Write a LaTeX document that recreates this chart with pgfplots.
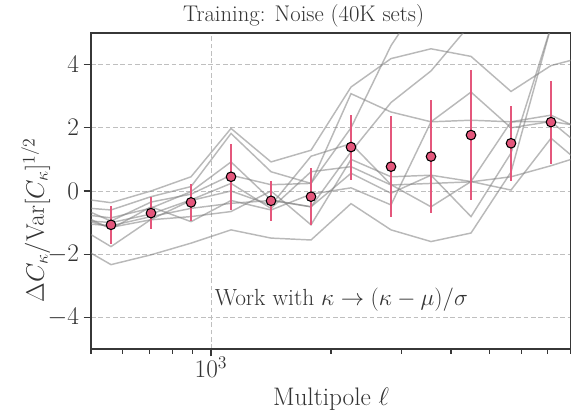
\RequirePackage{fix-cm}
\documentclass[border=0pt]{standalone}
\usepackage{pgfplots}
\usepackage{pgfplotstable}
\pgfplotsset{compat=1.18}

\definecolor{errpink}{RGB}{228,87,124}
\definecolor{spine}{RGB}{55,55,55}

% binned mean and error, log-spaced bins 500..8000
\pgfplotstableread{
x       y      err
561.2  -1.07   0.60
707.1  -0.70   0.50
890.9  -0.36   0.58
1122.5  0.45   1.05
1414.2 -0.31   0.64
1781.8 -0.18   0.91
2244.9  1.39   1.03
2828.4  0.77   1.60
3563.6  1.09   1.78
4489.8  1.77   2.05
5656.9  1.51   1.19
7127.1  2.18   1.31
}\binned

% individual realisations (gray)
\pgfplotstableread{
x       a      b      c      d      e      f      g      h      i      j
445.4  -0.20  -0.50  -0.70  -0.90  -1.00  -1.60  -0.80  -0.60  -1.00  -0.40
561.2  -0.37  -0.60  -0.85  -1.00  -1.10  -2.33  -1.15  -1.20  -1.76  -0.95
707.1   0.00  -0.18  -0.54  -0.73  -0.81  -2.02  -0.91  -0.50  -0.90  -0.35
890.9   0.45   0.14  -0.02  -0.28  -0.55  -1.65  -0.81  -0.97  -0.30  -0.10
1122.5  1.98   1.82   0.92   0.24  -0.39  -1.23  -0.65  -0.30   0.00   0.50
1414.2  0.92   0.61  -0.28  -0.55  -0.30  -1.49   0.00  -0.60  -0.45   0.20
1781.8  1.29   0.24  -0.50   0.61  -0.50  -1.55  -1.07  -0.10   1.10   0.24
2244.9  3.29   3.08   1.24   0.77   0.56  -0.40   1.00   0.10   1.50   2.00
2828.4  4.19   2.50   2.80   0.19  -0.07  -1.23   0.45  -0.44   0.20   4.60
3563.6  4.50   2.19   3.80   0.24   0.50  -1.60   0.50   2.19  -0.50   6.50
4489.8  4.26   2.24   5.30   0.29   0.30  -1.33  -0.81   3.13   0.30   7.00
5656.9  3.15   2.19   6.00   0.45   0.03   0.60   1.20   2.00   2.19   7.00
7127.1  3.97   2.40   6.00   0.80   1.67   5.20   5.20   2.20   2.20   7.00
8979.7  4.30   1.80   6.00   1.20   0.60   6.00   6.00   1.15   2.00   7.00
}\sims

\begin{document}
\begin{tikzpicture}
\begin{axis}[
  scale only axis,
  width=360pt, height=237pt,
  xmode=log,
  xmin=500, xmax=8000,
  ymin=-5, ymax=5,
  xtick={1000},
  minor xtick={500,600,700,800,900,2000,3000,4000,5000,6000,7000,8000},
  ytick={-4,-2,0,2,4},
  xtick pos=bottom, ytick pos=left,
  tick align=outside,
  major tick length=5.5pt, minor tick length=3.5pt,
  every tick/.style={spine, line width=0.9pt},
  axis line style={spine, line width=1.1pt},
  xmajorgrids, ymajorgrids,
  major grid style={black!25, line width=0.6pt, dash pattern=on 3.5pt off 2pt},
  title={Training: Noise (40K sets)},
  xlabel={Multipole $\ell$},
  ylabel={$\Delta C_\kappa/\mathrm{Var}[C_\kappa]^{1/2}$},
  every axis title shift=0pt,
  title style={font=\fontsize{17}{20}\selectfont, text=black!80,
    at={(axis description cs:0.443,1)}, anchor=base, yshift=8.5pt, inner sep=0pt},
  xlabel style={font=\fontsize{19}{21}\selectfont, text=black!80,
    at={(axis description cs:0.5,0)}, anchor=base, yshift=-42.5pt, inner sep=0pt},
  ylabel style={font=\fontsize{19}{21}\selectfont, text=black!80,
    at={(axis description cs:-0.115,0.408)}, anchor=center},
  tick label style={font=\fontsize{19}{21}\selectfont, text=black!80},
  xticklabel style={yshift=3pt},
]
\pgfplotsinvokeforeach{a,b,c,d,e,f,g,h,i,j}{
  \addplot[gray, opacity=0.55, line width=1.1pt, mark=none] table[x=x, y=#1]{\sims};
}
\addplot[errpink, only marks, mark=none,
  error bars/.cd, y dir=both, y explicit, error mark=none,
  error bar style={errpink, line width=1.5pt}]
  table[x=x, y=y, y error=err]{\binned};
\addplot[only marks, mark=*, mark size=3.6pt,
  mark options={fill=errpink, draw=black, line width=0.8pt}]
  table[x=x, y=y]{\binned};
\node[font=\fontsize{17.5}{20}\selectfont, text=black!80] at (axis cs:2123,-3.44)
  {Work with $\kappa\rightarrow(\kappa-\mu)/\sigma$};
\end{axis}
% page as large as the reference figure around the axis box
\pgfresetboundingbox
\path ([xshift=-68.25pt,yshift=-47.25pt]current axis.south west)
      rectangle ([yshift=24.75pt]current axis.north east);
\end{tikzpicture}
\end{document}
